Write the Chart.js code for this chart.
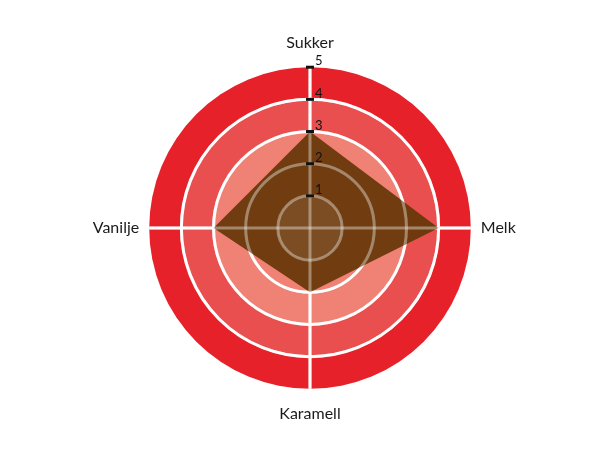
<!DOCTYPE html>
<html>
<head>
<meta charset="utf-8">
<script src="https://cdn.jsdelivr.net/npm/chart.js@4"></script>
<style>
    html, body { margin: 0; padding: 0; background: #ffffff; }
    #wrap { width: 610px; height: 450px; }
</style>
</head>
<body>
<div id="wrap"><canvas id="tasteChart"></canvas></div>
<script>
// Data
const categories = ['Sukker', 'Melk', 'Karamell', 'Vanilje'];
const tasteValues = [3, 4, 2, 3];
const tickValues = [1, 2, 3, 4, 5];

// Ring colours from centre outwards (value -> colour)
const ringColors = { 3: '#f08175', 4: '#e94f4f', 5: '#e62129' };

// Filled rings under the grid, overlay grid + ticks above the polygon
const ringPlugin = {
    id: 'rings',
    beforeDraw(chart) {
        const scale = chart.scales.r;
        const ctx = chart.ctx;
        ctx.save();
        [5, 4, 3].forEach(v => {
            ctx.beginPath();
            ctx.arc(scale.xCenter, scale.yCenter, scale.getDistanceFromCenterForValue(v), 0, Math.PI * 2);
            ctx.fillStyle = ringColors[v];
            ctx.fill();
        });
        ctx.restore();
    },
    afterDatasetsDraw(chart) {
        const scale = chart.scales.r;
        const ctx = chart.ctx;
        const cx = scale.xCenter, cy = scale.yCenter;
        ctx.save();

        // lighter centre disc
        ctx.beginPath();
        ctx.arc(cx, cy, scale.getDistanceFromCenterForValue(1), 0, Math.PI * 2);
        ctx.fillStyle = 'rgba(255,255,255,0.08)';
        ctx.fill();

        // grid seen through the polygon
        ctx.strokeStyle = 'rgba(255,255,255,0.36)';
        ctx.lineWidth = 3;
        [1, 2, 3, 4].forEach(v => {
            ctx.beginPath();
            ctx.arc(cx, cy, scale.getDistanceFromCenterForValue(v), 0, Math.PI * 2);
            ctx.stroke();
        });
        const outer = scale.getDistanceFromCenterForValue(5);
        categories.forEach((c, i) => {
            const p = scale.getPointPosition(i, outer);
            ctx.beginPath();
            ctx.moveTo(cx, cy);
            ctx.lineTo(p.x, p.y);
            ctx.stroke();
        });

        // tick marks and labels on the top axis
        ctx.font = '13px Lato, sans-serif';
        ctx.textAlign = 'left';
        ctx.textBaseline = 'middle';
        tickValues.forEach(v => {
            const y = cy - scale.getDistanceFromCenterForValue(v);
            ctx.fillStyle = '#111111';
            ctx.fillRect(cx - 4, y - 1.5, 8, 3);
            ctx.fillText(String(v), cx + 5, y - 6);
        });
        ctx.restore();
    }
};

const tasteChart = new Chart(document.getElementById('tasteChart'), {
    type: 'radar',
    data: {
        labels: categories,
        datasets: [{
            data: tasteValues,
            backgroundColor: 'rgba(104,56,10,0.94)',
            borderWidth: 0,
            pointRadius: 0,
            pointHoverRadius: 0
        }]
    },
    options: {
        responsive: true,
        maintainAspectRatio: false,
        animation: false,
        layout: { padding: { top: 33, bottom: 27, left: 10, right: 0 } },
        plugins: {
            legend: { display: false },
            tooltip: { enabled: false }
        },
        scales: {
            r: {
                min: 0,
                max: 5,
                ticks: { display: false, stepSize: 1 },
                grid: {
                    circular: true,
                    lineWidth: 3,
                    color: ctx => ctx.tick && ctx.tick.value === 5 ? 'rgba(0,0,0,0)' : '#ffffff'
                },
                angleLines: { color: '#ffffff', lineWidth: 3 },
                pointLabels: {
                    color: '#1a1a1a',
                    font: { family: 'Lato', size: 16 },
                    padding: ctx => ctx.index % 2 ? 10 : 15
                }
            }
        }
    },
    plugins: [ringPlugin]
});
</script>
</body>
</html>
